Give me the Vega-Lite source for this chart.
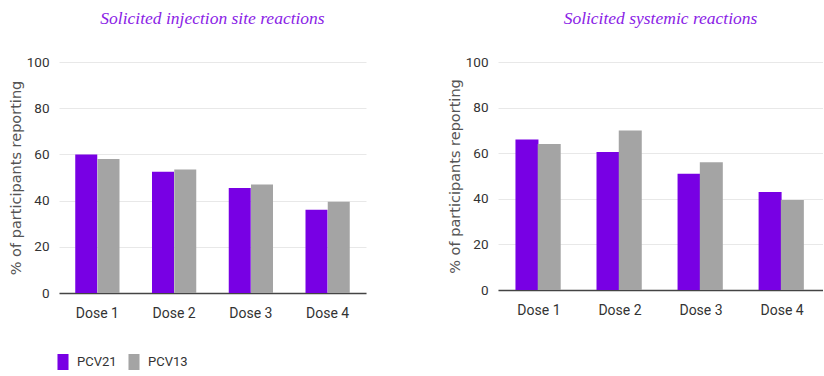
{
  "$schema": "https://vega.github.io/schema/vega-lite/v6.json",
  "padding": {"left": 8, "top": 9, "right": 0, "bottom": 0},
  "background": "white",
  "datasets": {
    "inj": [
      {"dose": "Dose 1", "vaccine": "PCV21", "pct": 60},
      {"dose": "Dose 1", "vaccine": "PCV13", "pct": 58},
      {"dose": "Dose 2", "vaccine": "PCV21", "pct": 52.5},
      {"dose": "Dose 2", "vaccine": "PCV13", "pct": 53.5},
      {"dose": "Dose 3", "vaccine": "PCV21", "pct": 45.5},
      {"dose": "Dose 3", "vaccine": "PCV13", "pct": 47},
      {"dose": "Dose 4", "vaccine": "PCV21", "pct": 36},
      {"dose": "Dose 4", "vaccine": "PCV13", "pct": 39.5}
    ],
    "sys": [
      {"dose": "Dose 1", "vaccine": "PCV21", "pct": 66},
      {"dose": "Dose 1", "vaccine": "PCV13", "pct": 64},
      {"dose": "Dose 2", "vaccine": "PCV21", "pct": 60.5},
      {"dose": "Dose 2", "vaccine": "PCV13", "pct": 70},
      {"dose": "Dose 3", "vaccine": "PCV21", "pct": 51},
      {"dose": "Dose 3", "vaccine": "PCV13", "pct": 56},
      {"dose": "Dose 4", "vaccine": "PCV21", "pct": 43},
      {"dose": "Dose 4", "vaccine": "PCV13", "pct": 39.5}
    ]
  },
  "config": {
    "view": {"stroke": null},
    "font": "Roboto",
    "title": {"font": "Liberation Serif", "fontStyle": "italic", "fontWeight": "normal", "fontSize": 17.5, "color": "#8a22e6", "anchor": "middle", "offset": 28},
    "axis": {"labelFont": "Roboto", "labelFontSize": 13.5, "labelColor": "#333333", "titleFont": "DejaVu Sans", "titleFontSize": 14.5, "titleFontWeight": "normal", "titleColor": "#555555", "ticks": false, "gridColor": "#e8e8e8"},
    "concat": {"spacing": 81}
  },
  "hconcat": [
    {
      "data": {"name": "inj"},
      "title": "Solicited injection site reactions",
      "width": 307,
      "height": 231,
      "mark": {"type": "bar", "width": 22},
      "encoding": {
        "x": {"field": "dose", "type": "nominal", "title": null, "axis": {"labelAngle": 0, "labelPadding": 13, "labelFontSize": 14, "domainColor": "#444444", "domainWidth": 1.5}, "scale": {"paddingInner": 0.42, "paddingOuter": 0.21}},
        "xOffset": {"field": "vaccine", "sort": ["PCV21", "PCV13"], "scale": {"paddingInner": 0, "paddingOuter": 0}},
        "y": {"field": "pct", "type": "quantitative", "title": "% of participants reporting", "scale": {"domain": [0, 100]}, "axis": {"values": [0, 20, 40, 60, 80, 100], "domain": false, "labelPadding": 10, "titlePadding": 3}},
        "color": {"field": "vaccine", "type": "nominal", "sort": ["PCV21", "PCV13"], "scale": {"domain": ["PCV21", "PCV13"], "range": ["#7800e4", "#a4a4a4"]},
          "legend": {"title": null, "orient": "none", "legendX": -4, "legendY": 292, "padding": 0, "direction": "horizontal", "symbolType": "M-0.69,-1H0.69V1H-0.69Z", "symbolSize": 256, "symbolStrokeWidth": 0, "symbolOpacity": 1, "labelFont": "Roboto", "labelFontSize": 13, "labelColor": "#333333", "columnPadding": 9, "labelOffset": 6}}
      }
    },
    {
      "data": {"name": "sys"},
      "title": "Solicited systemic reactions",
      "width": 325,
      "height": 228,
      "mark": {"type": "bar", "width": 23},
      "encoding": {
        "x": {"field": "dose", "type": "nominal", "title": null, "axis": {"labelAngle": 0, "labelPadding": 13, "labelFontSize": 14, "domainColor": "#444444", "domainWidth": 1.5}, "scale": {"paddingInner": 0.43, "paddingOuter": 0.22}},
        "xOffset": {"field": "vaccine", "sort": ["PCV21", "PCV13"], "scale": {"paddingInner": 0, "paddingOuter": 0}},
        "y": {"field": "pct", "type": "quantitative", "title": "% of participants reporting", "scale": {"domain": [0, 100]}, "axis": {"values": [0, 20, 40, 60, 80, 100], "domain": false, "labelPadding": 10, "titlePadding": 3}},
        "color": {"field": "vaccine", "type": "nominal", "sort": ["PCV21", "PCV13"], "scale": {"domain": ["PCV21", "PCV13"], "range": ["#7800e4", "#a4a4a4"]}}
      }
    }
  ]
}
